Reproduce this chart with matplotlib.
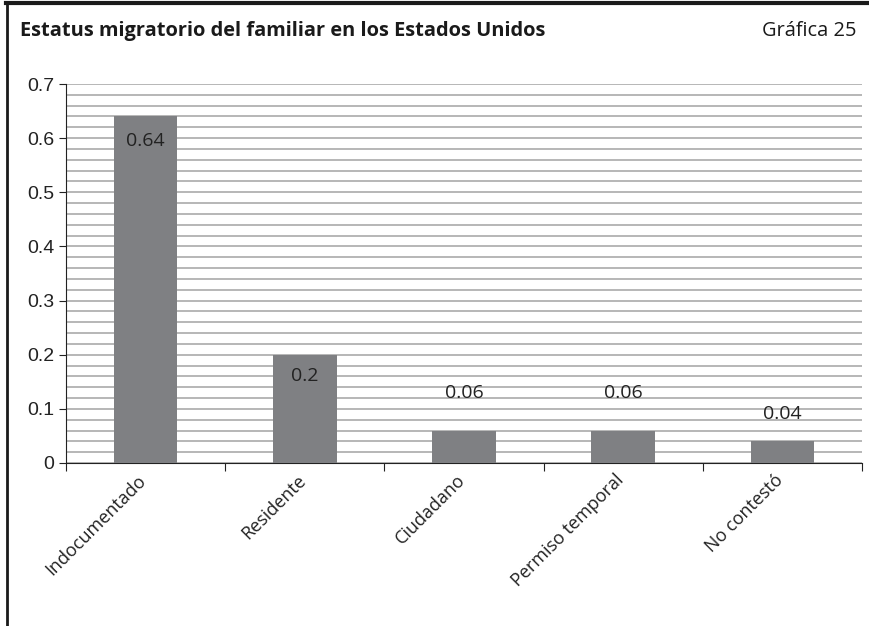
import matplotlib.pyplot as plt
from matplotlib.lines import Line2D
from matplotlib.ticker import MultipleLocator
import numpy as np

# data
categories = ["Indocumentado", "Residente", "Ciudadano", "Permiso temporal", "No contestó"]
values = [0.64, 0.2, 0.06, 0.06, 0.04]
label_offsets = [-0.045, -0.04, 0.07, 0.07, 0.05]
title = "Estatus migratorio del familiar en los Estados Unidos"
chart_no = "Gráfica 25"

bar_color = "#7f8083"
grid_color = "#a3a3a3"

fig = plt.figure(figsize=(8.69, 6.26), dpi=100)
ax = fig.add_axes([0.076, 0.2604, 0.916, 0.6054])

x = np.arange(len(categories))
ax.bar(x, values, width=0.4, color=bar_color, zorder=3)

for xi, v, off in zip(x, values, label_offsets):
    ax.text(xi, v + off, f"{v:g}", ha="center", va="center",
            fontsize=14, family="Open Sans", color="#222222", zorder=4)

ax.set_xlim(-0.5, len(categories) - 0.5)
ax.set_ylim(0, 0.7)
ax.yaxis.set_major_locator(MultipleLocator(0.1))
ax.yaxis.set_minor_locator(MultipleLocator(0.02))
ax.set_yticklabels([f"{t:g}" for t in ax.get_yticks()])
ax.grid(axis="y", which="both", color=grid_color, linewidth=1.1, zorder=0)
ax.tick_params(axis="y", which="minor", length=0)
ax.tick_params(axis="y", which="major", direction="out", length=5, labelsize=14,
               colors="#222222")

# category ticks sit on the boundaries
ax.set_xticks(np.arange(len(categories) + 1) - 0.5)
ax.set_xticklabels([])
ax.tick_params(axis="x", direction="out", length=6, color="#222222")
for xi, c in zip(x, categories):
    ax.annotate(c, xy=(xi, 0), xycoords=("data", "axes fraction"),
                xytext=(-6, -6), textcoords="offset points",
                rotation=45, ha="right", va="top", rotation_mode="anchor",
                fontsize=13, family="Open Sans", color="#222222")

for lbl in ax.get_yticklabels():
    lbl.set_family("Liberation Sans")

for s in ["top", "right"]:
    ax.spines[s].set_visible(False)
ax.spines["left"].set_color("#222222")
ax.spines["bottom"].set_color("#222222")

# page frame
fig.add_artist(Line2D([0.008, 0.008], [0, 0.996], color="#1a1a1a", linewidth=2))
fig.add_artist(Line2D([0.007, 1.0], [0.995, 0.995], color="#1a1a1a", linewidth=3))

fig.text(0.023, 0.951, title, fontsize=14.4, fontweight="bold", family="Open Sans",
         va="center", ha="left", color="#1a1a1a")
fig.text(0.986, 0.951, chart_no, fontsize=14.4, family="Open Sans",
         va="center", ha="right", color="#1a1a1a")

fig.savefig("out.png", dpi=100)
